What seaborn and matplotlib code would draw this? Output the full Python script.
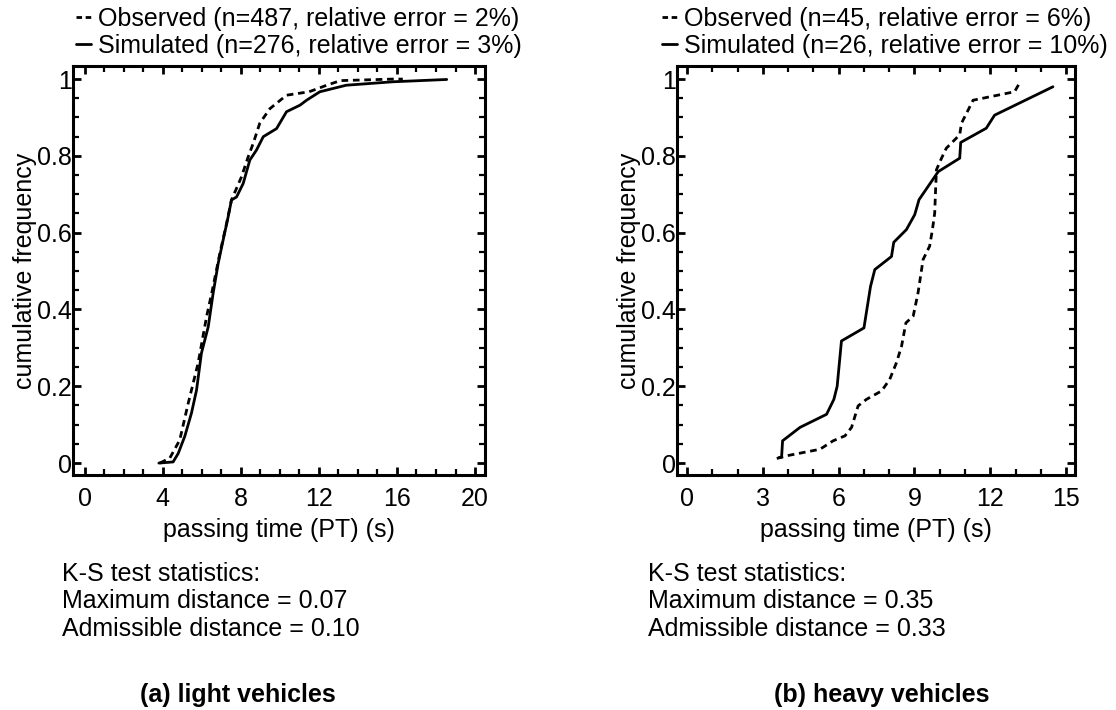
import numpy as np
import pandas as pd
import matplotlib
matplotlib.use("Agg")
import matplotlib.pyplot as plt
import seaborn as sns
from matplotlib.ticker import MultipleLocator, FuncFormatter

# (a) light vehicles
light_obs_x = [3.85, 4.36, 4.87, 5.3, 5.81, 6.24, 6.58, 6.92, 7.27, 7.52, 8.03, 8.38, 8.63,
               8.97, 9.49, 10.34, 11.5, 12.4, 13.1, 15.8, 16.3]
light_obs_y = [0.0, 0.013, 0.06, 0.155, 0.26, 0.38, 0.46, 0.545, 0.624, 0.685, 0.745, 0.798,
               0.832, 0.885, 0.923, 0.958, 0.967, 0.984, 0.996, 1.0, 1.0]
light_sim_x = [3.8, 4.53, 4.79, 5.13, 5.47, 5.73, 5.98, 6.33, 6.58, 6.84, 7.09, 7.35, 7.52,
               7.78, 8.12, 8.46, 8.8, 9.15, 9.83, 10.34, 11.03, 11.37, 12.05, 13.4, 15.8, 18.55]
light_sim_y = [0.0, 0.003, 0.025, 0.07, 0.13, 0.19, 0.286, 0.355, 0.442, 0.52, 0.58, 0.641,
               0.685, 0.693, 0.728, 0.789, 0.815, 0.85, 0.871, 0.915, 0.932, 0.945, 0.967,
               0.984, 0.993, 0.999]

# (b) heavy vehicles
heavy_obs_x = [3.55, 3.94, 5.26, 5.78, 6.25, 6.51, 6.77, 7.1, 7.7, 8.02, 8.29, 8.49, 8.66,
               8.95, 9.14, 9.24, 9.34, 9.6, 9.71, 9.8, 9.84, 9.87, 10.07, 10.26, 10.79, 10.86,
               11.32, 12.96, 13.16]
heavy_obs_y = [0.012, 0.019, 0.036, 0.058, 0.071, 0.093, 0.149, 0.166, 0.188, 0.218, 0.262,
               0.305, 0.365, 0.383, 0.443, 0.486, 0.53, 0.565, 0.608, 0.651, 0.72, 0.764,
               0.794, 0.82, 0.855, 0.885, 0.945, 0.967, 0.99]
heavy_sim_x = [3.65, 3.74, 3.78, 4.47, 5.52, 5.81, 5.94, 6.11, 7.0, 7.26, 7.43, 8.09, 8.18,
               8.68, 9.01, 9.18, 9.94, 10.79, 10.83, 11.84, 12.17, 14.48]
heavy_sim_y = [0.015, 0.015, 0.058, 0.093, 0.127, 0.166, 0.2, 0.318, 0.352, 0.46, 0.504,
               0.538, 0.575, 0.608, 0.647, 0.686, 0.759, 0.794, 0.835, 0.872, 0.906, 0.98]

panels = [
    dict(obs=(light_obs_x, light_obs_y), sim=(light_sim_x, light_sim_y),
         n_obs=487, err_obs=2, n_sim=276, err_sim=3,
         xlim=(-0.6, 20.5), xmajor=4, maxd="0.07", admd="0.10", title="(a) light vehicles"),
    dict(obs=(heavy_obs_x, heavy_obs_y), sim=(heavy_sim_x, heavy_sim_y),
         n_obs=45, err_obs=6, n_sim=26, err_sim=10,
         xlim=(-0.4, 15.35), xmajor=3, maxd="0.35", admd="0.33", title="(b) heavy vehicles"),
]

sns.set_style("ticks")
plt.rcParams["font.family"] = ["Liberation Sans", "DejaVu Sans"]
plt.rcParams["text.color"] = "black"
plt.rcParams["axes.labelcolor"] = "black"
fs = 18

fig = plt.figure(figsize=(11.16, 7.10), dpi=100)
ax_pos = [[0.0654, 0.331, 0.369, 0.576], [0.6066, 0.331, 0.3566, 0.576]]
ks_x = [0.056, 0.581]
title_x = [0.213, 0.79]
leg_x = [0.068, 0.593]

dash = (0, (2.4, 1.7))

for i, p in enumerate(panels):
    ax = fig.add_axes(ax_pos[i])
    df_obs = pd.DataFrame({"x": p["obs"][0], "y": p["obs"][1]})
    df_sim = pd.DataFrame({"x": p["sim"][0], "y": p["sim"][1]})
    lab_obs = f"Observed (n={p['n_obs']}, relative error = {p['err_obs']}%)"
    lab_sim = f"Simulated (n={p['n_sim']}, relative error = {p['err_sim']}%)"
    sns.lineplot(data=df_obs, x="x", y="y", sort=False, estimator=None, ax=ax,
                 color="black", lw=2.0, label=lab_obs)
    ax.lines[-1].set_linestyle(dash)
    sns.lineplot(data=df_sim, x="x", y="y", sort=False, estimator=None, ax=ax,
                 color="black", lw=2.0, label=lab_sim)

    ax.set_xlim(*p["xlim"])
    ax.set_ylim(-0.031, 1.034)
    ax.xaxis.set_major_locator(MultipleLocator(p["xmajor"]))
    ax.xaxis.set_minor_locator(MultipleLocator(1))
    ax.yaxis.set_major_locator(MultipleLocator(0.2))
    ax.yaxis.set_minor_locator(MultipleLocator(0.05))
    ax.yaxis.set_major_formatter(FuncFormatter(lambda v, pos: f"{v:g}"))
    ax.tick_params(which="both", direction="in", top=True, right=True, colors="black",
                   labelsize=fs)
    ax.tick_params(axis="y", which="major", length=6, width=2, pad=1)
    ax.tick_params(axis="x", which="major", length=6, width=2, pad=9)
    ax.tick_params(which="minor", length=4, width=1.6)
    for s in ax.spines.values():
        s.set_linewidth(2.2)
        s.set_color("black")
    ax.set_xlabel("passing time (PT) (s)", fontsize=fs, labelpad=5)
    ax.set_ylabel("cumulative frequency", fontsize=fs, labelpad=0)

    leg = ax.legend(loc="upper left", bbox_to_anchor=(leg_x[i], 0.99),
                    bbox_transform=fig.transFigure, frameon=False, fontsize=fs,
                    handlelength=0.6, handletextpad=0.3, labelspacing=0.1,
                    borderaxespad=0, borderpad=0)
    leg.get_lines()[0].set_linestyle((0, (2.0, 1.3)))

    fig.text(ks_x[i], 0.153,
             f"K-S test statistics:\nMaximum distance = {p['maxd']}\nAdmissible distance = {p['admd']}",
             fontsize=fs, va="center", ha="left", linespacing=1.2)
    fig.text(title_x[i], 0.021, p["title"], fontsize=fs, fontweight="bold",
             ha="center", va="center")

fig.savefig("out.png", dpi=100, facecolor="white")
